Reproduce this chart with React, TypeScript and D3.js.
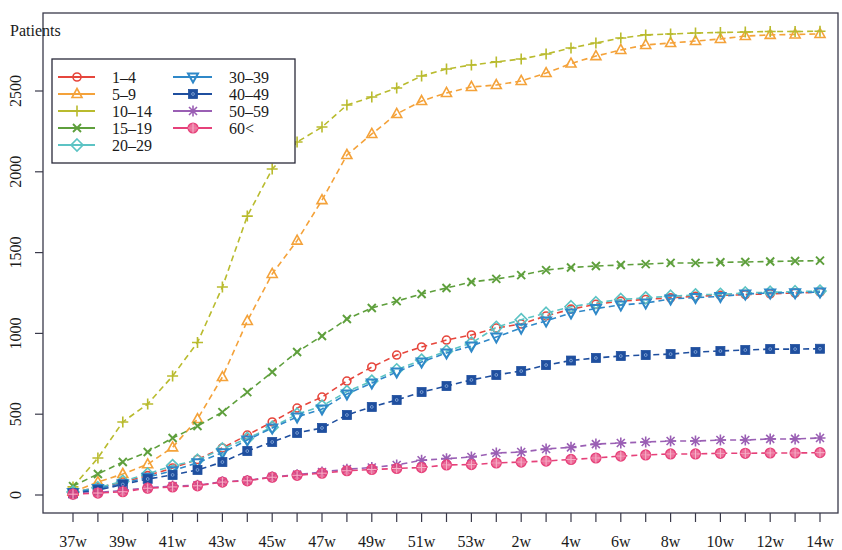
import React from 'react';
import * as d3 from 'd3';

const weeks = ['37w','38w','39w','40w','41w','42w','43w','44w','45w','46w','47w','48w','49w','50w','51w','52w','53w','1w','2w','3w','4w','5w','6w','7w','8w','9w','10w','11w','12w','13w','14w'];
const yTicks = [0, 500, 1000, 1500, 2000, 2500];

const names = ['1–4','5–9','10–14','15–19','20–29','30–39','40–49','50–59','60<'];
const colors = ['#e6463c','#f4a23a','#b9bb2e','#5e9f3c','#5cc3c4','#2f88c8','#1f4f9f','#9a5fb4','#e6417a'];
const shapes = ['circle','triangle','plus','cross','diamond','triangleDown','square','asterisk','circlePlus'];

const s1_4 = [20,45,80,120,167,220,291,371,452,538,606,705,792,866,916,959,990,1033,1058,1108,1150,1180,1200,1210,1220,1230,1235,1240,1245,1250,1255];
const s5_9 = [20,80,130,190,295,470,730,1077,1368,1574,1825,2104,2234,2358,2438,2488,2525,2537,2562,2611,2670,2716,2754,2785,2797,2809,2822,2840,2847,2850,2853];
const s10_14 = [50,229,452,563,736,944,1287,1726,2017,2184,2277,2413,2463,2519,2593,2636,2661,2680,2698,2729,2766,2797,2828,2847,2853,2859,2862,2865,2868,2868,2870];
const s15_19 = [55,130,204,266,353,427,513,637,761,885,984,1089,1157,1200,1244,1281,1318,1337,1361,1392,1408,1417,1423,1429,1436,1436,1440,1442,1445,1448,1450];
const s20_29 = [18,45,85,130,182,215,285,350,420,500,550,640,705,775,835,890,940,1038,1085,1125,1165,1190,1210,1220,1230,1238,1242,1250,1255,1258,1262];
const s30_39 = [15,40,70,110,150,200,262,340,415,483,532,625,693,761,823,879,922,978,1033,1077,1126,1154,1176,1188,1213,1222,1228,1244,1250,1252,1256];
const s40_49 = [10,30,65,99,124,155,204,272,328,384,415,495,545,588,637,674,712,743,767,804,832,848,860,866,872,885,891,897,903,903,905];
const s50_59 = [8,15,28,45,55,60,82,90,112,126,142,160,170,186,215,225,235,260,266,285,295,315,322,328,334,334,340,340,347,347,353];
const s60 = [5,12,20,42,50,57,80,88,110,122,135,150,158,164,170,186,188,198,204,210,220,229,241,248,254,254,258,258,260,260,262];

const seriesValues = [s1_4, s5_9, s10_14, s15_19, s20_29, s30_39, s40_49, s50_59, s60];

const FONT = '"Liberation Serif", "DejaVu Serif", serif';

function Marker({ shape, x, y, color }: { shape: string; x: number; y: number; color: string }) {
  const sw = 1.6;
  switch (shape) {
    case 'circle':
      return <circle cx={x} cy={y} r={4} fill="none" stroke={color} strokeWidth={sw} />;
    case 'triangle':
      return <path d={`M${x},${y - 5.5}L${x + 5},${y + 3.5}L${x - 5},${y + 3.5}Z`} fill="none" stroke={color} strokeWidth={sw} />;
    case 'triangleDown':
      return <path d={`M${x},${y + 5.5}L${x + 5},${y - 3.5}L${x - 5},${y - 3.5}Z`} fill="none" stroke={color} strokeWidth={sw + 0.4} />;
    case 'plus':
      return <path d={`M${x - 5.5},${y}H${x + 5.5}M${x},${y - 5.5}V${y + 5.5}`} stroke={color} strokeWidth={sw} />;
    case 'cross':
      return <path d={`M${x - 4},${y - 4}L${x + 4},${y + 4}M${x - 4},${y + 4}L${x + 4},${y - 4}`} stroke={color} strokeWidth={sw + 0.3} />;
    case 'diamond':
      return <path d={`M${x},${y - 6}L${x + 6},${y}L${x},${y + 6}L${x - 6},${y}Z`} fill="none" stroke={color} strokeWidth={sw} />;
    case 'square':
      return (
        <g>
          <rect x={x - 4.5} y={y - 4.5} width={9} height={9} fill={color} stroke={color} strokeWidth={0.8} />
          <circle cx={x} cy={y} r={1.4} fill="none" stroke="#8fb0dd" strokeWidth={0.8} />
        </g>
      );
    case 'asterisk':
      return <path d={`M${x - 5.5},${y}H${x + 5.5}M${x},${y - 5.5}V${y + 5.5}M${x - 4},${y - 4}L${x + 4},${y + 4}M${x - 4},${y + 4}L${x + 4},${y - 4}`} stroke={color} strokeWidth={sw} />;
    case 'circlePlus':
      return (
        <g>
          <circle cx={x} cy={y} r={4.8} fill={color} fillOpacity={0.75} stroke={color} strokeWidth={sw} />
          <path d={`M${x - 4.8},${y}H${x + 4.8}M${x},${y - 4.8}V${y + 4.8}`} stroke="#f7b3cb" strokeWidth={1} />
        </g>
      );
    default:
      return null;
  }
}

export default function App() {
  const W = 842, H = 550;
  const left = 43, right = 838, top = 13, bottom = 513;
  const x = d3.scalePoint<string>().domain(weeks).range([73, 820]);
  const y = d3.scaleLinear().domain([0, 2500]).range([495, 91]);
  const line = d3.line<number>().x((_, i) => x(weeks[i]) as number).y((d) => y(d));

  const legendX = 52, legendY = 59, legendW = 243, legendH = 104;
  const rowY = (r: number) => 77 + r * 17;
  const cols = [{ l0: 58, l1: 95, m: 77, t: 112 }, { l0: 173, l1: 212, m: 193, t: 229 }];

  return (
    <svg width={W} height={H} style={{ position: 'absolute', left: 0, top: 0, background: '#fff' }} fontFamily={FONT}>
      <rect x={0} y={0} width={W} height={H} fill="#fff" />
      {/* series */}
      {seriesValues.map((vals, si) => (
        <g key={names[si]}>
          <path d={line(vals) || ''} fill="none" stroke={colors[si]} strokeWidth={1.6} strokeDasharray="6,4" />
          {vals.map((v, i) => (
            <Marker key={i} shape={shapes[si]} x={x(weeks[i]) as number} y={y(v)} color={colors[si]} />
          ))}
        </g>
      ))}
      {/* frame */}
      <rect x={left} y={top} width={right - left} height={bottom - top} fill="none" stroke="#3a3a4a" strokeWidth={1.3} />
      {/* x axis ticks */}
      {weeks.map((w, i) => (
        <g key={w}>
          <line x1={x(w) as number} x2={x(w) as number} y1={bottom} y2={bottom + 9} stroke="#3a3a4a" strokeWidth={1.2} />
          {i % 2 === 0 && (
            <text x={x(w) as number} y={547} textAnchor="middle" fontSize={16} fill="#1a1a1a">{w}</text>
          )}
        </g>
      ))}
      {/* y axis ticks */}
      {yTicks.map((t) => (
        <g key={t}>
          <line x1={left - 8} x2={left} y1={y(t)} y2={y(t)} stroke="#3a3a4a" strokeWidth={1.2} />
          <text transform={`translate(21,${y(t)}) rotate(-90)`} textAnchor="middle" fontSize={16} fill="#1a1a1a">{t}</text>
        </g>
      ))}
      <text x={10} y={36} fontSize={16} fill="#1a1a1a">Patients</text>
      {/* legend */}
      <rect x={legendX} y={legendY} width={legendW} height={legendH} fill="#fff" stroke="#2a2a3a" strokeWidth={1.3} />
      {names.map((n, si) => {
        const c = cols[si < 5 ? 0 : 1];
        const r = si < 5 ? si : si - 5;
        const yy = rowY(r);
        return (
          <g key={n}>
            <line x1={c.l0} x2={c.l1} y1={yy} y2={yy} stroke={colors[si]} strokeWidth={1.8} />
            <Marker shape={shapes[si]} x={c.m} y={yy} color={colors[si]} />
            <text x={c.t} y={yy + 5.5} fontSize={16} fill="#1a1a1a">{n}</text>
          </g>
        );
      })}
    </svg>
  );
}
